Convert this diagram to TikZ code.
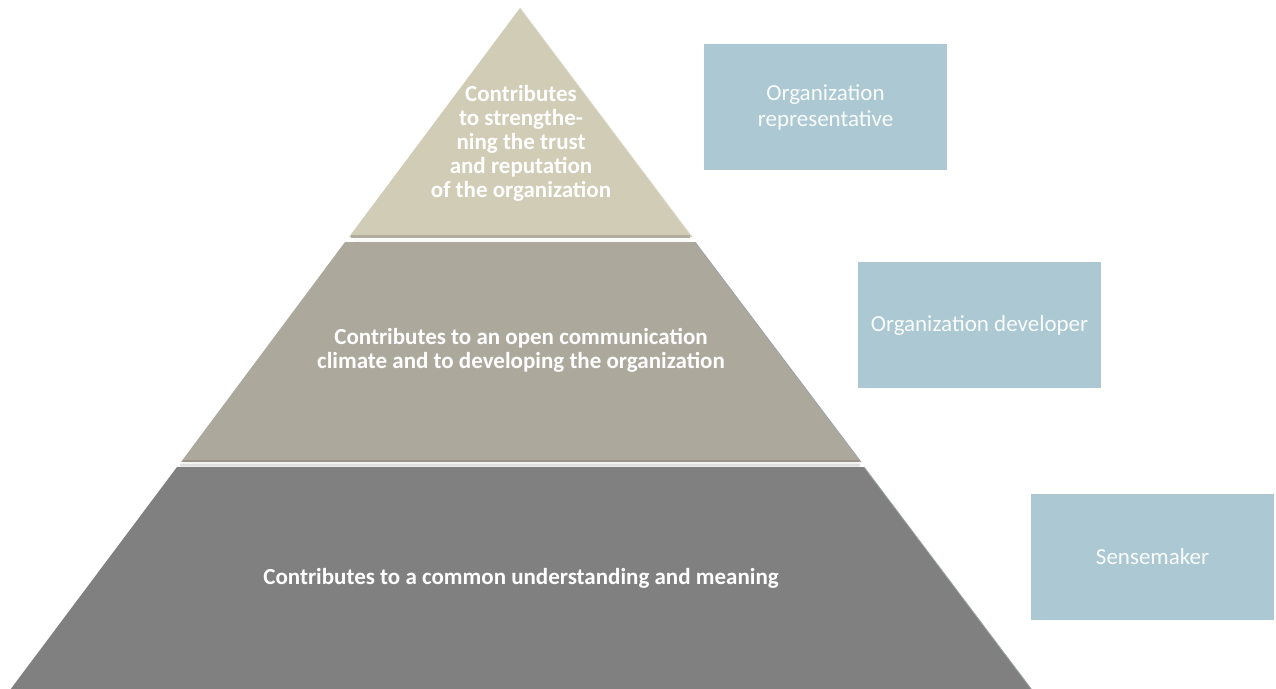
\documentclass[tikz,border=0pt]{standalone}
\usepackage{fontspec}
\setmainfont{Carlito}
\begin{document}
\begin{tikzpicture}[x=1pt,y=-1pt,
  tiertext/.style={text=white,font=\fontsize{23}{24}\selectfont\bfseries,align=center},
  rolebox/.style={fill=roleblue,minimum width=243pt,minimum height=126pt,inner sep=0pt,
    text=white!94!roleblue,font=\fontsize{23}{26}\selectfont,align=center},
  edgeline/.style={draw=edgegray,line width=0.8pt}]
\definecolor{tiertop}{HTML}{D0CCB6}
\definecolor{tiermid}{HTML}{ADA89C}
\definecolor{tierlow}{HTML}{808080}
\definecolor{roleblue}{HTML}{ABC8D3}
\definecolor{edgegray}{HTML}{9AA3A8}
\useasboundingbox (0,0) rectangle (1276,688);
\fill[white] (0,0) rectangle (1276,688);
\begin{scope}
\clip (0,0) rectangle (1276,688);
% bottom tier
\fill[tierlow] (177,467) -- (864,467) -- (1035,694) -- (7,694) -- cycle;
\draw[edgeline] (864,467) -- (1035,694);
% middle tier
\fill[tiermid] (345,242) -- (695,242) -- (861,462) -- (181,462) -- cycle;
\draw[edgeline] (695,242) -- (861,462);
% top tier
\fill[tiertop] (520,8) -- (692,237) -- (349,237) -- cycle;
\draw[edgeline,draw=tiertop!70!white] (520,8) -- (692,237);
\end{scope}
% bevel lines between the tiers
\fill[tiertop!85!black] (351,235) rectangle (690,237.5);
\fill[white!90!tiertop,rounded corners=1pt] (353,238.5) rectangle (689,241.5);
\fill[tiermid!88!black] (183,459.5) rectangle (859,462);
\fill[white!75!tierlow,rounded corners=1pt] (180,463.5) rectangle (860,466.5);
% tier texts
\node[tiertext] (top) at (521,143) {Contributes\\to strengthe-\\ning the trust\\and reputation\\of the organization};
\node[tiertext] (mid) at (521,350) {Contributes to an open communication\\climate and to developing the organization};
\node[tiertext] (low) at (521,578) {Contributes to a common understanding and meaning};
% role boxes
\node[rolebox] (rep) at (825.5,107) {\raisebox{-2pt}{\parbox{200pt}{\centering Organization\\representative}}};
\node[rolebox] (dev) at (979.5,325) {\raisebox{-2pt}{Organization developer}};
\node[rolebox] (sense) at (1152.5,557) {\raisebox{-1pt}{Sensemaker}};
\end{tikzpicture}
\end{document}
